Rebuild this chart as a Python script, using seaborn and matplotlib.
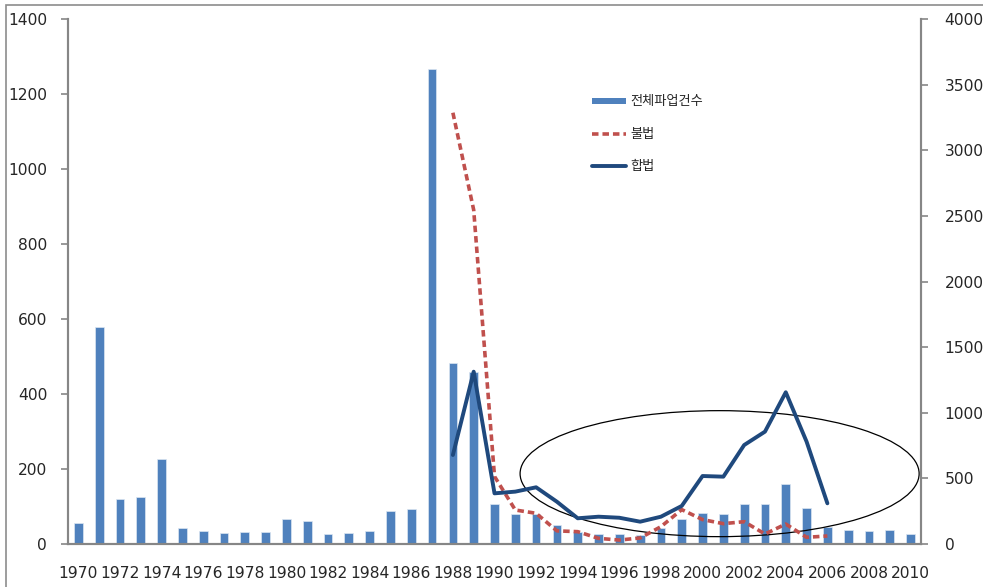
import numpy as np
import pandas as pd
import matplotlib.pyplot as plt
import seaborn as sns
from matplotlib.patches import Ellipse, Rectangle, Patch
from matplotlib.lines import Line2D

# 데이터
years = list(range(1970, 2011))
total_strikes = [57, 580, 120, 126, 227, 43, 35, 30, 32, 32,
                 68, 62, 27, 30, 35, 89, 93, 1268, 482, 460,
                 108, 79, 81, 50, 33, 28, 26, 23, 44, 67,
                 84, 79, 108, 108, 159, 96, 46, 37, 35, 37, 26]

line_years = list(range(1988, 2007))
illegal = [3286, 2545, 515, 259, 234, 100, 94, 43, 30, 46,
           132, 262, 186, 155, 170, 76, 152, 51, 61]
legal = [678, 1313, 386, 399, 432, 322, 196, 208, 200, 170,
         208, 290, 518, 513, 754, 856, 1156, 780, 310]

bar_df = pd.DataFrame({'year': [str(y) for y in years], 'total': total_strikes})
line_df = pd.DataFrame({'pos': [y - 1970 for y in line_years],
                        'illegal': illegal, 'legal': legal})

sns.set_style('white')
plt.rcParams['font.family'] = ['DejaVu Sans', 'Noto Sans CJK KR']

bar_color = '#4F81BD'
red = '#C0504D'
navy = '#1F497D'
grey = '#868686'

fig = plt.figure(figsize=(9.83, 5.87), dpi=100)
ax = fig.add_axes([68 / 983, 1 - 544 / 587, 853 / 983, 525 / 587])

sns.barplot(data=bar_df, x='year', y='total', color=bar_color, saturation=1,
            width=0.42, edgecolor='#DCE6F2', linewidth=0.5, ax=ax)

ax2 = ax.twinx()
sns.lineplot(data=line_df, x='pos', y='illegal', color=red, lw=2.6,
             linestyle=(0, (1.8, 1.1)), ax=ax2)
sns.lineplot(data=line_df, x='pos', y='legal', color=navy, lw=2.8, ax=ax2)

# 강조 타원
ax2.add_patch(Ellipse((30.82, 536), 19.18, 960, fill=False,
                      edgecolor='black', lw=0.9))

ax.set_xlim(-0.5, len(years) - 0.5)
ax.set_ylim(0, 1400)
ax.set_yticks(range(0, 1401, 200))
ax2.set_ylim(0, 4000)
ax2.set_yticks(range(0, 4001, 500))

ax.set_xticks(range(0, len(years), 2))
ax.set_xticklabels([str(y) for y in years[::2]])
ax.set_xticks(np.arange(-0.5, len(years), 1), minor=True)
ax.tick_params(axis='x', which='major', length=0, pad=16, labelsize=11.2)
ax.tick_params(axis='x', which='minor', length=5, color=grey, width=1.2)
ax.tick_params(axis='y', length=5, color=grey, width=1.2, labelsize=11.2, pad=10)
ax2.tick_params(axis='y', length=5, color=grey, width=1.2, labelsize=11.2, pad=12)

for a in (ax, ax2):
    a.set_xlabel('')
    a.set_ylabel('')
    a.spines['top'].set_visible(False)
    for s in ('left', 'right', 'bottom'):
        a.spines[s].set_color(grey)
        a.spines[s].set_linewidth(1.5)

handles = [Patch(facecolor=bar_color, edgecolor='none'),
           Line2D([], [], color=red, lw=2.6, linestyle=(0, (1.8, 1.1))),
           Line2D([], [], color=navy, lw=2.8)]
labels = ['전체파업건수', '불법', '합법']
leg = ax2.legend(handles, labels, loc='upper left', bbox_to_anchor=(0.6, 0.877),
                 frameon=False, fontsize=9.5, handlelength=2.6, handleheight=0.35,
                 labelspacing=1.45, handletextpad=0.3)

# 바깥 테두리
fig.patches.append(Rectangle((6 / 983, -0.1), 1.1, 1 - 4.5 / 587 + 0.1,
                             transform=fig.transFigure, fill=False,
                             edgecolor='#8C8C8C', lw=1.2))

fig.savefig('out.png', dpi=100)
